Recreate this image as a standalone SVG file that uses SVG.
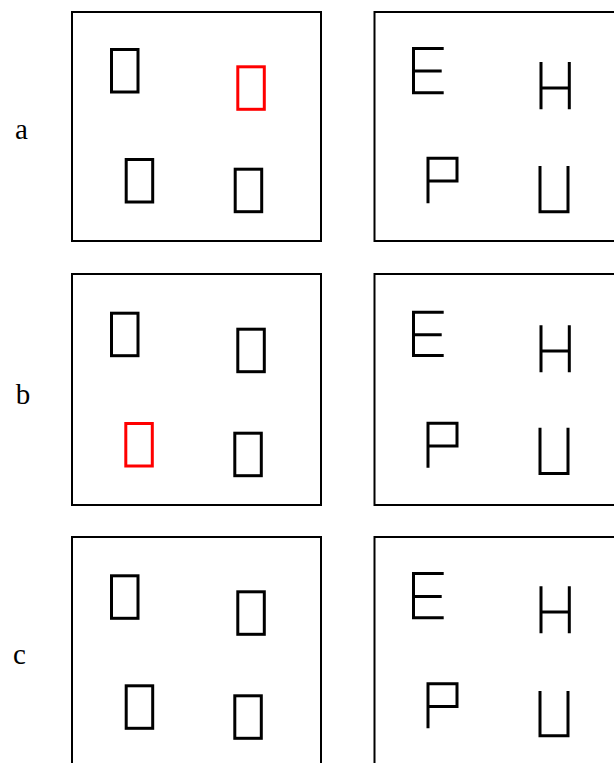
<svg xmlns="http://www.w3.org/2000/svg" width="614" height="763" viewBox="0 0 614 763">
<style>
.frame{fill:none;stroke:#000;stroke-width:2}
.shape{fill:none;stroke:#000;stroke-width:3}
.hl{stroke:#ff0000}
.let{fill:none;stroke:#000;stroke-width:3;stroke-linecap:butt;stroke-linejoin:miter}
.lbl{font-family:"Liberation Serif","DejaVu Serif",serif;font-size:29px;fill:#000;text-anchor:middle}
</style>
<rect width="614" height="763" fill="#fff"/>
<g id="connectors"/>
<g id="row-a">
  <text class="lbl" x="21.5" y="139">a</text>
  <g id="a-left">
    <rect class="frame" x="72" y="12" width="249" height="229"/>
    <rect class="shape" x="111.5" y="49.5" width="26.5" height="42.5"/>
    <rect class="shape hl" x="237.8" y="66.8" width="26.5" height="42.5"/>
    <rect class="shape" x="126.2" y="159.5" width="26.5" height="42.5"/>
    <rect class="shape" x="235.2" y="169.2" width="26.5" height="42.5"/>
  </g>
  <g id="a-right">
    <rect class="frame" x="374.5" y="12" width="250" height="229"/>
    <path class="let" d="M443.7,48.5H413.5V92.8H443.7M413.5,71H441.7"/>
    <path class="let" d="M541,62V109.3M569.3,62V109.3M541,88H569.3"/>
    <path class="let" d="M428,203.3V158.2H457V181H428"/>
    <path class="let" d="M540,166V211.8H568V166"/>
  </g>
</g>
<g id="row-b">
  <text class="lbl" x="23" y="404">b</text>
  <g id="b-left">
    <rect class="frame" x="72" y="274" width="249" height="231"/>
    <rect class="shape" x="111.5" y="313.2" width="26.5" height="42.5"/>
    <rect class="shape" x="237.8" y="329.2" width="26.5" height="42.5"/>
    <rect class="shape hl" x="125.8" y="423.5" width="26.5" height="42.5"/>
    <rect class="shape" x="234.8" y="433.2" width="26.5" height="42.5"/>
  </g>
  <g id="b-right">
    <rect class="frame" x="374.5" y="274" width="250" height="231"/>
    <path class="let" d="M443.7,312.2H413.5V355.5H443.7M413.5,334.8H441.7"/>
    <path class="let" d="M541,325.3V372.3M569.3,325.3V372.3M541,351H569.3"/>
    <path class="let" d="M428,467.7V423.2H457V446H428"/>
    <path class="let" d="M540,427.7V473.5H568V427.7"/>
  </g>
</g>
<g id="row-c">
  <text class="lbl" x="19.5" y="664">c</text>
  <g id="c-left">
    <rect class="frame" x="72" y="537" width="249" height="240"/>
    <rect class="shape" x="111.5" y="575.8" width="26.5" height="42.5"/>
    <rect class="shape" x="237.8" y="591.8" width="26.5" height="42.5"/>
    <rect class="shape" x="126.2" y="685.8" width="26.5" height="42.5"/>
    <rect class="shape" x="234.8" y="695.8" width="26.5" height="42.5"/>
  </g>
  <g id="c-right">
    <rect class="frame" x="374.5" y="537" width="250" height="240"/>
    <path class="let" d="M443.7,573.5H413.5V617.8H443.7M413.5,596.5H441.7"/>
    <path class="let" d="M541,586.3V633.3M569.3,586.3V633.3M541,612H569.3"/>
    <path class="let" d="M428,728.3V683.8H457V706.5H428"/>
    <path class="let" d="M540,691V735.8H568V691"/>
  </g>
</g>
</svg>
